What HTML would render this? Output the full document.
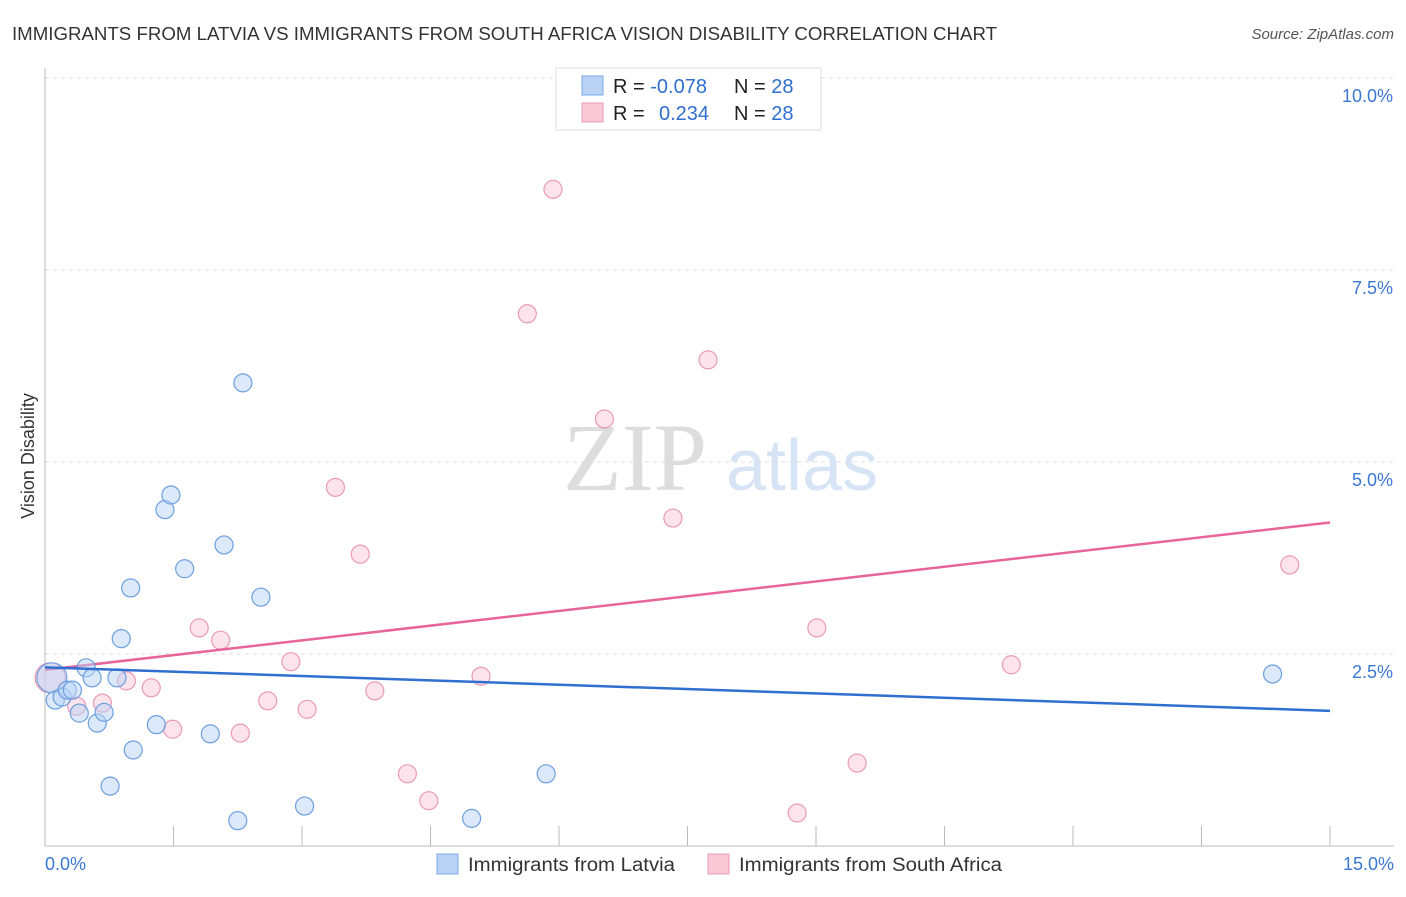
<!DOCTYPE html>
<html><head><meta charset="utf-8"><style>
body{margin:0;background:#fff;font-family:"Liberation Sans",sans-serif;}
svg text{font-family:"Liberation Sans",sans-serif;}
svg text.serif{font-family:"Liberation Serif",serif;}
</style></head><body>
<svg id="chart" width="1406" height="892">
<text x="12" y="40" font-size="18" fill="#333" textLength="985" lengthAdjust="spacingAndGlyphs">IMMIGRANTS FROM LATVIA VS IMMIGRANTS FROM SOUTH AFRICA VISION DISABILITY CORRELATION CHART</text>
<text x="1394" y="39" font-size="15" fill="#555" text-anchor="end" font-style="italic">Source: ZipAtlas.com</text>
<text x="34" y="456" font-size="18" fill="#333" text-anchor="middle" transform="rotate(-90 34 456)">Vision Disability</text>
<g><text class="serif" x="635" y="490" font-size="96" fill="#ddd" text-anchor="middle">ZIP</text><text x="802" y="490" font-size="72" fill="#d6e4f5" text-anchor="middle">atlas</text></g>
<g id="grid"></g><g id="axes"></g><g id="marks"></g>
<g>
<rect x="556" y="68" width="265" height="62" fill="#fff" stroke="#ddd"/>
<rect x="582" y="76" width="21" height="19" fill="#b8d3f5" stroke="#7aa8e6"/>
<rect x="582" y="103" width="21" height="19" fill="#fbc8d7" stroke="#eb9ab5"/>
<text x="613" y="93" font-size="20" fill="#222">R = <tspan fill="#2f6fd0">-0.078</tspan></text>
<text x="734" y="93" font-size="20" fill="#222">N = <tspan fill="#2f6fd0">28</tspan></text>
<text x="613" y="120" font-size="20" fill="#222">R = <tspan fill="#2f6fd0" x="659">0.234</tspan></text>
<text x="734" y="120" font-size="20" fill="#222">N = <tspan fill="#2f6fd0">28</tspan></text>
</g>
<g>
<rect x="437" y="854" width="21" height="20" fill="#b8d3f5" stroke="#7aa8e6"/>
<text x="468" y="871" font-size="19" fill="#333" textLength="207" lengthAdjust="spacingAndGlyphs">Immigrants from Latvia</text>
<rect x="708" y="854" width="21" height="20" fill="#fbc8d7" stroke="#eb9ab5"/>
<text x="739" y="871" font-size="19" fill="#333" textLength="263" lengthAdjust="spacingAndGlyphs">Immigrants from South Africa</text>
</g>
</svg>
<script>
const blueX=[0.08,0.12,0.20,0.26,0.32,0.40,0.48,0.55,0.61,0.69,0.76,0.84,0.89,1.00,1.03,1.30,1.40,1.47,1.63,1.93,2.09,2.25,2.31,2.52,3.03,4.98,5.85,14.33];
const blueY=[2.19,1.90,1.94,2.03,2.03,1.73,2.32,2.19,1.60,1.74,0.78,2.19,2.70,3.36,1.25,1.58,4.38,4.57,3.61,1.46,3.92,0.33,6.03,3.24,0.52,0.36,0.94,2.24];
const pinkX=[0.06,0.37,0.67,0.95,1.24,1.49,1.80,2.05,2.28,2.60,2.87,3.06,3.39,3.68,3.85,4.23,4.48,5.09,5.63,5.93,6.53,7.33,7.74,8.78,9.01,9.48,11.28,14.53];
const pinkY=[2.19,1.82,1.86,2.15,2.06,1.52,2.84,2.68,1.47,1.89,2.40,1.78,4.67,3.80,2.02,0.94,0.59,2.21,6.93,8.55,5.56,4.27,6.33,0.43,2.84,1.08,2.36,3.66];
const yTicks=[2.5,5.0,7.5,10.0];
const xTickLabels=["0.0%","15.0%"];
const NS="http://www.w3.org/2000/svg";
const sx=v=>45+v*(1285/15), sy=v=>846-v*76.8;
function mk(p,t,a){const e=document.createElementNS(NS,t);for(const k in a)e.setAttribute(k,a[k]);p.appendChild(e);return e;}
const grid=document.getElementById('grid'),axes=document.getElementById('axes'),marks=document.getElementById('marks');
yTicks.forEach(v=>{
 const l=mk(grid,'line',{x1:45,x2:1394,y1:sy(v),y2:sy(v),stroke:'#ddd','stroke-dasharray':'4,4'});
 
 
 const t=mk(grid,'text',{x:1393,y:sy(v)+24,'font-size':18,fill:'#3a78d4','text-anchor':'end'});
 t.textContent=v.toFixed(1)+'%';
 
 
});
mk(axes,'line',{x1:45,x2:45,y1:68,y2:846,stroke:'#bbb'});
mk(axes,'line',{x1:45,x2:1394,y1:846,y2:846,stroke:'#bbb'});
for(let i=1;i<=10;i++){const x=sx(i*1.5);mk(axes,'line',{x1:x,x2:x,y1:826,y2:846,stroke:'#bbb'});}
const xl0=mk(axes,'text',{x:45,y:870,'font-size':18,fill:'#3a78d4'});xl0.textContent=xTickLabels[0];


const xl1=mk(axes,'text',{x:1394,y:870,'font-size':18,fill:'#3a78d4','text-anchor':'end'});xl1.textContent=xTickLabels[1];


function fit(X,Y){const n=X.length;let mx=0,my=0;for(let i=0;i<n;i++){mx+=X[i];my+=Y[i];}mx/=n;my/=n;let sxy=0,sxx=0;for(let i=0;i<n;i++){sxy+=(X[i]-mx)*(Y[i]-my);sxx+=(X[i]-mx)**2;}const b=sxy/sxx;return[my-b*mx,b];}
function series(X,Y,fill,stroke,line,name){
 X.forEach((x,i)=>{const c=mk(marks,'circle',{cx:sx(x),cy:sy(Y[i]),r:i==0?15:9,fill:fill,'fill-opacity':0.5,stroke:stroke,'stroke-width':1.2});
 
 });
 const [a,b]=fit(X,Y);
 const l=mk(marks,'line',{x1:sx(0),y1:sy(a),x2:sx(15),y2:sy(a+b*15),stroke:line,'stroke-width':2.5});
 
 
}
series(pinkX,pinkY,'#fbc8d7','#eb9ab5','#e8659a','south-africa');
series(blueX,blueY,'#b8d3f5','#6c9fe0','#2f6fd0','latvia');
</script>
</body></html>
